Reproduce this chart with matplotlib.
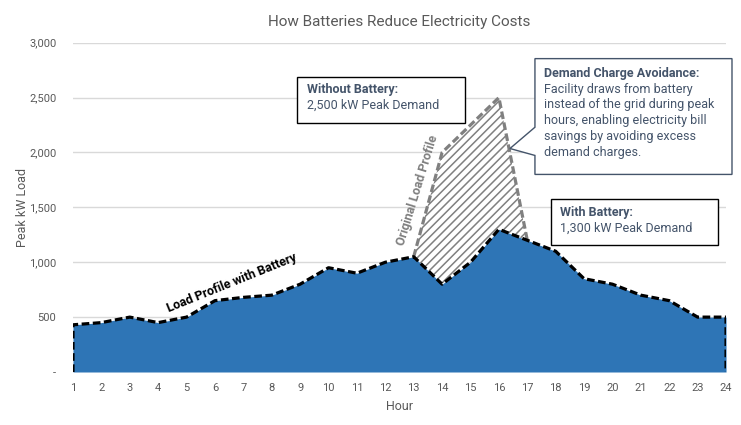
import matplotlib.pyplot as plt
from matplotlib.patches import Polygon, Rectangle
from matplotlib.ticker import FuncFormatter

plt.rcParams['font.family'] = ['Roboto', 'DejaVu Sans']
plt.rcParams['hatch.linewidth'] = 1.1

# dados
hours = list(range(1, 25))
with_battery = [430, 450, 500, 450, 500, 650, 680, 700, 800, 950, 900, 1000,
                1050, 800, 1000, 1300, 1200, 1100, 850, 800, 700, 650, 500, 500]
orig_hours = [13, 14, 15, 16, 17]
orig_load = [1050, 2000, 2250, 2500, 1200]
yticks = [0, 500, 1000, 1500, 2000, 2500, 3000]

blue = '#2E75B6'
slate = '#44546A'
gray_txt = '#595959'
dash = (0, (2.4, 1.1))

fig = plt.figure(figsize=(7.41, 4.25), dpi=100)
ax = fig.add_axes([0.0985, 0.1247, 0.8813, 0.7748])

# grade
for v in yticks[1:]:
    ax.axhline(v, color='#D9D9D9', lw=1, zorder=0)

# area com bateria
ax.fill_between(hours, with_battery, 0, color=blue, lw=0, zorder=2)
ax.plot([hours[0]] + hours + [hours[-1]], [0] + with_battery + [0],
        color='black', lw=2.3, ls=dash, zorder=4)

# perfil original (hachurado)
base = [with_battery[h - 1] for h in orig_hours]
ax.fill_between(orig_hours, orig_load, base, facecolor='white', edgecolor='#808080',
                hatch='////', lw=0, zorder=1)
ax.plot(orig_hours, orig_load, color='#808080', lw=2.3, ls=dash, zorder=3)

ax.set_xlim(1, 24)
ax.set_ylim(0, 3000)
ax.set_xticks(hours)
ax.set_yticks(yticks)
ax.yaxis.set_major_formatter(FuncFormatter(lambda v, p: '-' if v == 0 else f'{int(v):,}'))
ax.tick_params(length=0, colors=gray_txt, labelsize=8)
ax.tick_params(axis='y', pad=12)
ax.tick_params(axis='x', pad=8)
for s in ax.spines.values():
    s.set_visible(False)

ax.set_xlabel('Hour', color=gray_txt, fontsize=9, labelpad=5)
ax.set_ylabel('Peak kW Load', color=gray_txt, fontsize=9, labelpad=0)
ax.set_title('How Batteries Reduce Electricity Costs', color=gray_txt, fontsize=11, pad=12)

# rotulos inclinados
ax.text(6.6, 810, 'Load Profile with Battery', rotation=22, fontsize=9, fontweight='bold',
        color='black', ha='center', va='center', zorder=5)
ax.text(13.13, 1655, 'Original Load Profile', rotation=73, fontsize=9, fontweight='bold',
        color='#808080', ha='center', va='center', zorder=5)

# caixa sem bateria
ax.add_patch(Rectangle((8.89, 2264), 5.92, 427, facecolor='white', edgecolor='black',
                       lw=1, zorder=6))
ax.text(9.24, 2573, 'Without Battery:', fontsize=9, fontweight='bold', color=slate,
        va='center', zorder=7)
ax.text(9.24, 2427, '2,500 kW Peak Demand', fontsize=9, color=slate, va='center', zorder=7)

# caixa com bateria
ax.add_patch(Rectangle((17.83, 1155), 5.89, 424, facecolor='white', edgecolor='black',
                       lw=1, zorder=6))
ax.text(18.15, 1455, 'With Battery:', fontsize=9, fontweight='bold', color=slate,
        va='center', zorder=7)
ax.text(18.15, 1309, '1,300 kW Peak Demand', fontsize=9, color=slate, va='center', zorder=7)

# balao de chamada
callout = Polygon([(17.27, 2855), (24.21, 2855), (24.21, 1800), (17.27, 1800),
                   (17.27, 1973), (16.39, 2036), (17.27, 2230)],
                  closed=True, facecolor='white', edgecolor=slate, lw=1, zorder=6,
                  clip_on=False)
ax.add_patch(callout)
ax.text(17.59, 2718, 'Demand Charge Avoidance:', fontsize=9, fontweight='bold', color=slate,
        va='center', zorder=7)
ax.text(17.59, 2636, 'Facility draws from battery\ninstead of the grid during peak\n'
        'hours, enabling electricity bill\nsavings by avoiding excess\ndemand charges.',
        fontsize=9, color=slate, va='top', linespacing=1.28, zorder=7)

fig.savefig('out.png', dpi=100)
